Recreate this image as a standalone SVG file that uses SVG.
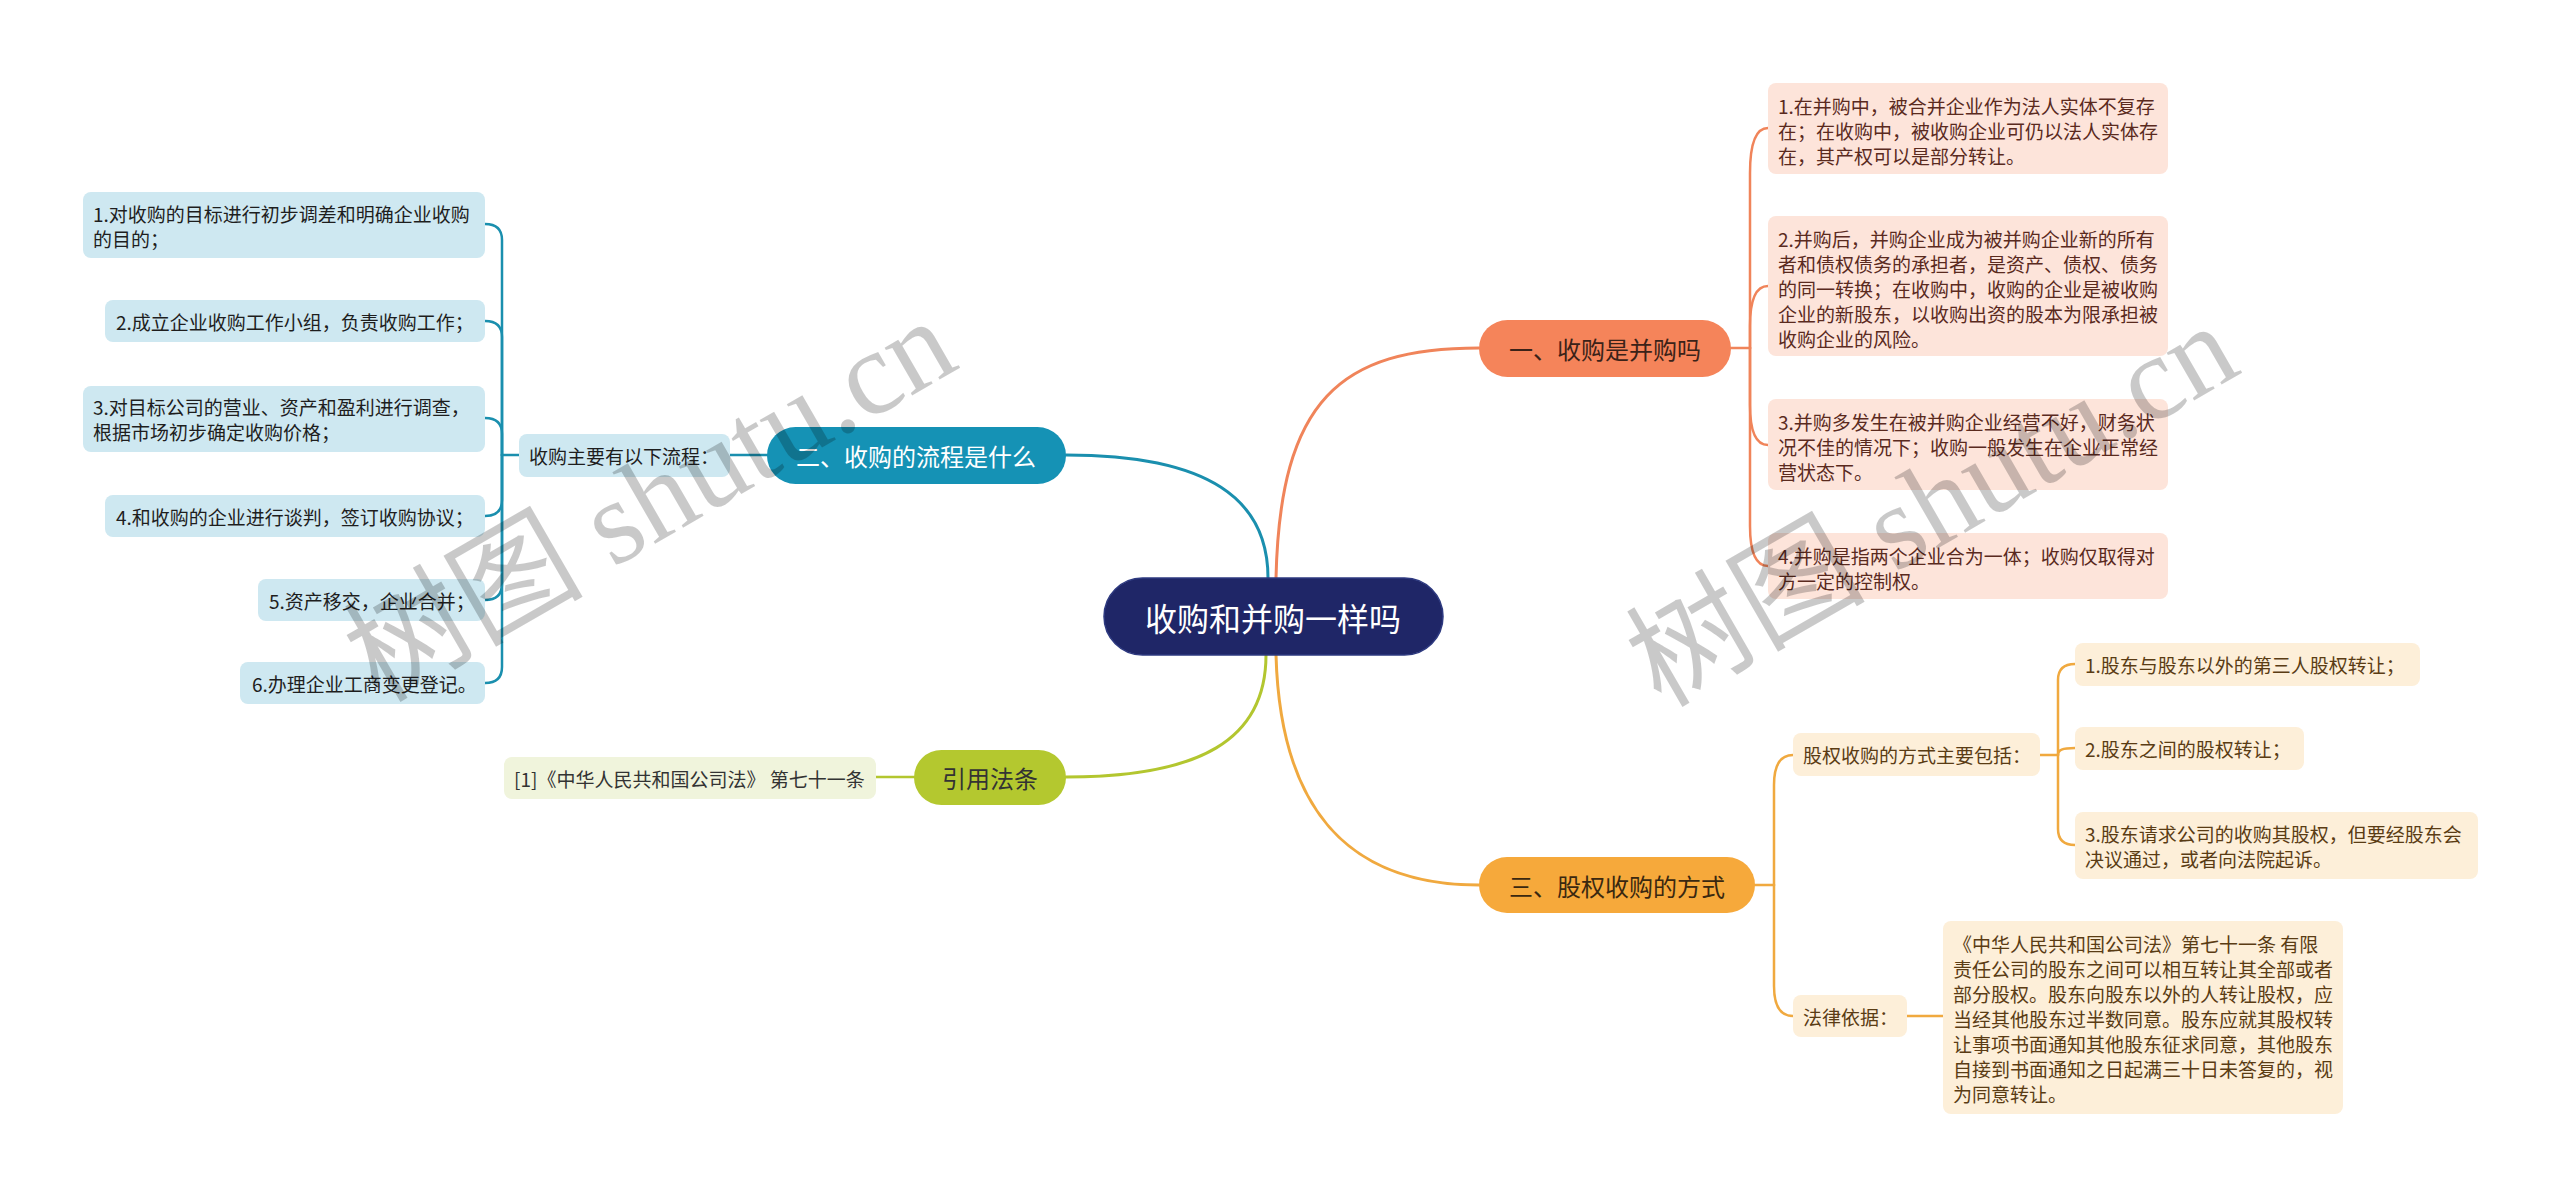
<svg xmlns="http://www.w3.org/2000/svg" width="2560" height="1194" viewBox="0 0 2560 1194">
<style>
  text { font-family: "Noto Sans CJK SC", "Noto Sans", sans-serif; dominant-baseline: central; }
  .c { fill: none; stroke-width: 3; stroke-linecap: round; }
  .b { fill: none; stroke-width: 2.5; stroke-linecap: round; }
  .or { stroke: #f0845a; }
  .te { stroke: #1a8fae; }
  .li { stroke: #b3c62f; }
  .ye { stroke: #f0a93f; }
  .t20 { font-size: 19px; }
  .t19 { font-size: 19px; }
  .br { font-size: 24px; text-anchor: middle; }
  .boxO { fill: #fde4da; }
  .boxB { fill: #cee8f1; }
  .boxY { fill: #fdefd9; }
  .boxL { fill: #f0f4dc; }
  .txO { fill: #5a2a1e; }
  .txB { fill: #1e1e1e; }
  .txY { fill: #5a3c14; }
  .wm { font-family: "Liberation Serif", "Noto Sans CJK SC", serif; font-size: 120px; fill: #000; fill-opacity: 0.21; text-anchor: middle; }
</style>

<g id="connectors">
  <path class="c or" d="M1276,578 C1280,400 1340,348 1479,348"/>
  <path class="c te" d="M1268,578 C1268,500 1210,455 1066,455"/>
  <path class="c li" d="M1266,655 C1266,740 1200,777 1066,777"/>
  <path class="c ye" d="M1276,655 C1280,800 1340,885 1479,885"/>
  <!-- branch 1 bracket -->
  <path class="b or" d="M1731,348 H1750"/>
  <path class="b or" d="M1750,348 V173 Q1750,128 1768,128"/>
  <path class="b or" d="M1750,348 V326 Q1750,286 1768,286"/>
  <path class="b or" d="M1750,348 V405 Q1750,445 1768,445"/>
  <path class="b or" d="M1750,348 V526 Q1750,566 1768,566"/>
  <!-- branch 2 -->
  <path class="b te" d="M767,455 H730"/>
  <path class="b te" d="M519,455 H502"/>
  <path class="b te" d="M502,455 V240 Q502,224 485,224"/>
  <path class="b te" d="M502,455 V337 Q502,321 485,321"/>
  <path class="b te" d="M502,455 V434 Q502,418 485,418"/>
  <path class="b te" d="M502,455 V500 Q502,516 485,516"/>
  <path class="b te" d="M502,455 V584 Q502,600 485,600"/>
  <path class="b te" d="M502,455 V667 Q502,683 485,683"/>
  <!-- branch 4 -->
  <path class="b li" d="M914,777 H876"/>
  <!-- branch 3 -->
  <path class="b ye" d="M1755,885 H1774"/>
  <path class="b ye" d="M1774,885 V785 Q1774,755 1793,755"/>
  <path class="b ye" d="M1774,885 V986 Q1774,1016 1793,1016"/>
  <path class="b ye" d="M2040,755 H2058"/>
  <path class="b ye" d="M2058,755 V680 Q2058,664 2075,664"/>
  <path class="b ye" d="M2058,755 C2058,750 2062,748 2075,748"/>
  <path class="b ye" d="M2058,755 V829 Q2058,845 2075,845"/>
  <path class="b ye" d="M1907,1016 H1943"/>
</g>

<g id="center">
  <rect x="1104" y="578" width="339" height="77" rx="38.5" fill="#1f2667" stroke="#2e3a80" stroke-width="1.5"/>
  <text x="1273" y="617" font-size="32" fill="#ffffff" text-anchor="middle">收购和并购一样吗</text>
</g>

<g id="branch1">
  <rect x="1479" y="320" width="252" height="57" rx="28.5" fill="#f5845a"/>
  <text class="br" x="1605" y="348.5" fill="#3b2218">一、收购是并购吗</text>
</g>
<g id="b1-item1">
  <rect class="boxO" x="1768" y="83" width="400" height="91" rx="8"/>
  <text class="t20 txO" x="1778"><tspan x="1778" y="105">1.在并购中，被合并企业作为法人实体不复存</tspan><tspan x="1778" y="130">在；在收购中，被收购企业可仍以法人实体存</tspan><tspan x="1778" y="155">在，其产权可以是部分转让。</tspan></text>
</g>
<g id="b1-item2">
  <rect class="boxO" x="1768" y="216" width="400" height="140" rx="8"/>
  <text class="t20 txO"><tspan x="1778" y="238">2.并购后，并购企业成为被并购企业新的所有</tspan><tspan x="1778" y="263">者和债权债务的承担者，是资产、债权、债务</tspan><tspan x="1778" y="288">的同一转换；在收购中，收购的企业是被收购</tspan><tspan x="1778" y="313">企业的新股东，以收购出资的股本为限承担被</tspan><tspan x="1778" y="338">收购企业的风险。</tspan></text>
</g>
<g id="b1-item3">
  <rect class="boxO" x="1768" y="399" width="400" height="91" rx="8"/>
  <text class="t20 txO"><tspan x="1778" y="421">3.并购多发生在被并购企业经营不好，财务状</tspan><tspan x="1778" y="446">况不佳的情况下；收购一般发生在企业正常经</tspan><tspan x="1778" y="471">营状态下。</tspan></text>
</g>
<g id="b1-item4">
  <rect class="boxO" x="1768" y="533" width="400" height="66" rx="8"/>
  <text class="t20 txO"><tspan x="1778" y="555">4.并购是指两个企业合为一体；收购仅取得对</tspan><tspan x="1778" y="580">方一定的控制权。</tspan></text>
</g>

<g id="branch2">
  <rect x="767" y="427" width="299" height="57" rx="28.5" fill="#1592b5"/>
  <text class="br" x="916" y="455.5" fill="#ffffff">二、收购的流程是什么</text>
</g>
<g id="b2-label">
  <rect class="boxB" x="519" y="434" width="211" height="43" rx="8"/>
  <text class="t20 txB" x="529" y="455.5">收购主要有以下流程：</text>
</g>
<g id="b2-item1">
  <rect class="boxB" x="83" y="192" width="402" height="66" rx="8"/>
  <text class="t20 txB"><tspan x="93" y="213">1.对收购的目标进行初步调差和明确企业收购</tspan><tspan x="93" y="238">的目的；</tspan></text>
</g>
<g id="b2-item2">
  <rect class="boxB" x="105" y="300" width="380" height="42" rx="8"/>
  <text class="t20 txB" x="116" y="321">2.成立企业收购工作小组，负责收购工作；</text>
</g>
<g id="b2-item3">
  <rect class="boxB" x="83" y="386" width="402" height="66" rx="8"/>
  <text class="t20 txB"><tspan x="93" y="406">3.对目标公司的营业、资产和盈利进行调查，</tspan><tspan x="93" y="431">根据市场初步确定收购价格；</tspan></text>
</g>
<g id="b2-item4">
  <rect class="boxB" x="105" y="495" width="380" height="42" rx="8"/>
  <text class="t20 txB" x="116" y="516">4.和收购的企业进行谈判，签订收购协议；</text>
</g>
<g id="b2-item5">
  <rect class="boxB" x="258" y="579" width="227" height="42" rx="8"/>
  <text class="t20 txB" x="269" y="600">5.资产移交，企业合并；</text>
</g>
<g id="b2-item6">
  <rect class="boxB" x="240" y="662" width="245" height="42" rx="8"/>
  <text class="t20 txB" x="252" y="683">6.办理企业工商变更登记。</text>
</g>

<g id="branch4">
  <rect x="914" y="750" width="152" height="55" rx="27.5" fill="#b4c82f"/>
  <text class="br" x="990" y="777.5" fill="#333333">引用法条</text>
</g>
<g id="b4-item1">
  <rect class="boxL" x="504" y="757" width="372" height="42" rx="8"/>
  <text class="t19" x="514" y="778" fill="#333333">[1]《中华人民共和国公司法》 第七十一条</text>
</g>

<g id="branch3">
  <rect x="1479" y="857" width="276" height="56" rx="28" fill="#f6a93b"/>
  <text class="br" x="1617" y="885.5" fill="#3a2810">三、股权收购的方式</text>
</g>
<g id="b3-label1">
  <rect class="boxY" x="1793" y="733" width="247" height="43" rx="8"/>
  <text class="t20 txY" x="1803" y="754.5">股权收购的方式主要包括：</text>
</g>
<g id="b3-item1">
  <rect class="boxY" x="2075" y="643" width="345" height="43" rx="8"/>
  <text class="t20 txY" x="2085" y="664.5">1.股东与股东以外的第三人股权转让；</text>
</g>
<g id="b3-item2">
  <rect class="boxY" x="2075" y="727" width="229" height="43" rx="8"/>
  <text class="t20 txY" x="2085" y="748.5">2.股东之间的股权转让；</text>
</g>
<g id="b3-item3">
  <rect class="boxY" x="2075" y="812" width="403" height="67" rx="8"/>
  <text class="t20 txY"><tspan x="2085" y="833">3.股东请求公司的收购其股权，但要经股东会</tspan><tspan x="2085" y="858">决议通过，或者向法院起诉。</tspan></text>
</g>
<g id="b3-label2">
  <rect class="boxY" x="1793" y="995" width="114" height="42" rx="8"/>
  <text class="t20 txY" x="1803" y="1016">法律依据：</text>
</g>
<g id="b3-law">
  <rect class="boxY" x="1943" y="921" width="400" height="193" rx="8"/>
  <text class="t19 txY"><tspan x="1953" y="943">《中华人民共和国公司法》第七十一条 有限</tspan><tspan x="1953" y="968">责任公司的股东之间可以相互转让其全部或者</tspan><tspan x="1953" y="993">部分股权。股东向股东以外的人转让股权，应</tspan><tspan x="1953" y="1018">当经其他股东过半数同意。股东应就其股权转</tspan><tspan x="1953" y="1043">让事项书面通知其他股东征求同意，其他股东</tspan><tspan x="1953" y="1068">自接到书面通知之日起满三十日未答复的，视</tspan><tspan x="1953" y="1093">为同意转让。</tspan></text>
</g>

<g id="watermarks">
  <text class="wm" x="650" y="500" transform="rotate(-30 650 500)">树图 shutu.cn</text>
  <text class="wm" x="1932" y="505" transform="rotate(-30 1932 505)">树图 shutu.cn</text>
</g>
</svg>
